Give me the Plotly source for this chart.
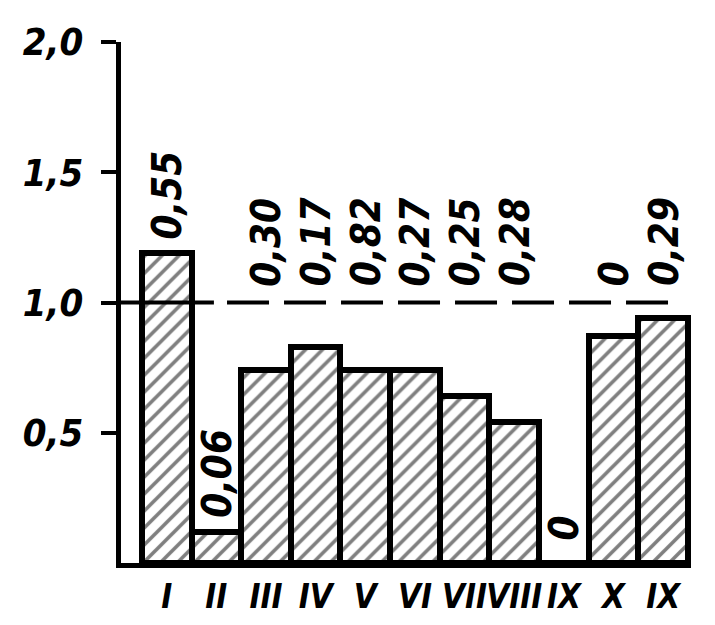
import plotly.graph_objects as go

# ---- data ----
categories = ["I", "II", "III", "IV", "V", "VI", "VII", "VIII", "IX", "X", "IX"]
values = [1.19, 0.12, 0.74, 0.83, 0.74, 0.74, 0.64, 0.54, 0.0, 0.87, 0.94]
labels = ["0,55", "0,06", "0,30", "0,17", "0,82", "0,27", "0,25", "0,28", "0", "0", "0,29"]
reference_level = 1.0
y_ticks = [0.5, 1.0, 1.5, 2.0]
y_tick_text = ["0,5", "1,0", "1,5", "2,0"]

# ---- placement of the value labels (layout, not data) ----
label_mode = ["bar", "bar", "line", "line", "line", "line", "line", "line", "base", "line", "line"]

FONT = "DejaVu Sans Condensed, Liberation Sans Narrow, Arial Narrow, Liberation Sans, sans-serif"
x = list(range(len(categories)))

fig = go.Figure()
fig.add_trace(go.Bar(
    x=x, y=values, width=1.0,
    marker=dict(
        color="white",
        line=dict(color="black", width=6),
        pattern=dict(shape="/", fgcolor="black", bgcolor="white", size=12, solidity=0.3),
    ),
    showlegend=False,
))

annotations = []
for xi, v, t, m in zip(x, values, labels, label_mode):
    if m == "bar":
        ya = v + 0.045
    elif m == "line":
        ya = reference_level + 0.055
    else:
        ya = 0.08
    annotations.append(dict(
        x=xi, y=ya, xref="x", yref="y", text=t, showarrow=False,
        textangle=-90, xanchor="center", yanchor="bottom",
        font=dict(family=FONT, size=40, color="black", style="italic", weight="bold"),
    ))

fig.update_layout(
    width=715, height=625,
    margin=dict(l=113, r=32, t=34, b=70),
    paper_bgcolor="white", plot_bgcolor="white",
    bargap=0,
    annotations=annotations,
    shapes=[
        dict(type="line", xref="paper", yref="y", x0=0, x1=0.163,
             y0=reference_level, y1=reference_level,
             line=dict(color="black", width=4), layer="above"),
        dict(type="line", xref="paper", yref="y", x0=0.186, x1=0.98,
             y0=reference_level, y1=reference_level,
             line=dict(color="black", width=4, dash="42px,15px"), layer="above"),
    ],
    xaxis=dict(
        range=[-0.92, 10.56], tickmode="array", tickvals=x, ticktext=categories,
        showline=True, linecolor="black", linewidth=5, mirror=False,
        showgrid=False, zeroline=False, ticks="", ticklabelstandoff=0,
        tickangle=0, automargin=False,
        tickfont=dict(family=FONT, size=33, color="black", style="italic", weight="bold"),
    ),
    yaxis=dict(
        range=[0, 2.0], tickmode="array", tickvals=y_ticks, ticktext=y_tick_text,
        showline=True, linecolor="black", linewidth=5, automargin=False,
        showgrid=False, zeroline=False, ticks="outside", ticklen=15, tickwidth=4,
        tickcolor="black", ticklabelstandoff=10,
        tickfont=dict(family=FONT, size=38, color="black", style="italic", weight="bold"),
    ),
)

fig.write_html("out.html")
